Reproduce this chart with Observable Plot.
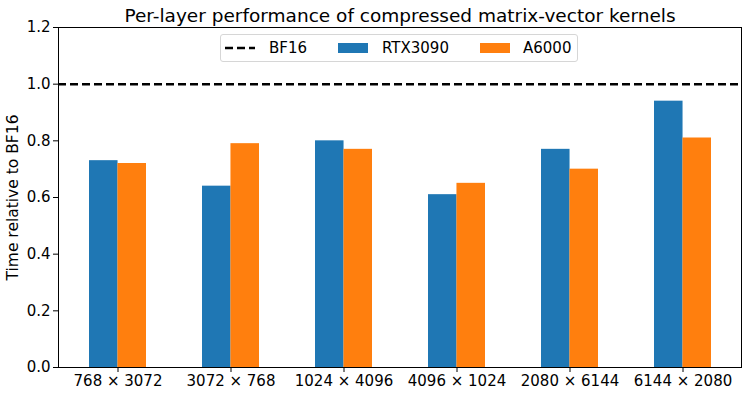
<!DOCTYPE html>
<html>
<head>
<meta charset="utf-8">
<script src="https://cdn.jsdelivr.net/npm/d3@7"></script>
<script src="https://cdn.jsdelivr.net/npm/@observablehq/plot@0.6"></script>
<style>
  html, body { margin: 0; padding: 0; background: white; }
  #wrap { position: relative; width: 748px; height: 396px; font-family: "DejaVu Sans", sans-serif; }
  #legend { position: absolute; left: 220px; top: 34px; width: 356px; height: 26px;
    border: 1px solid #d6d6d6; border-radius: 3px; background: rgba(255,255,255,0.85);
    font-size: 15px; color: black; }
  .li { position: absolute; top: 0; height: 26px; line-height: 26px; white-space: nowrap; }
  .sw { position: absolute; top: 8px; width: 30px; height: 10px; }
</style>
</head>
<body>
<div id="wrap"></div>
<script>
// ---- data ----
const categories = ["768 × 3072", "3072 × 768", "1024 × 4096", "4096 × 1024", "2080 × 6144", "6144 × 2080"];
const rtx3090 = [0.73, 0.64, 0.80, 0.61, 0.77, 0.94];
const a6000 = [0.72, 0.79, 0.77, 0.65, 0.70, 0.81];
const yTicks = [0, 0.2, 0.4, 0.6, 0.8, 1.0, 1.2];
const bf16 = 1.0;
const seriesNames = ["BF16", "RTX3090", "A6000"];
const colors = {RTX3090: "#1f77b4", A6000: "#ff7f0e"};
const title = "Per-layer performance of compressed matrix-vector kernels";
const yLabel = "Time relative to BF16";

// ---- layout ----
const W = 748, H = 396, mL = 58, mR = 7, mT = 27, mB = 29;
const step = (W - mL - mR) / categories.length;
const half = step * 0.25;

const rtxData = categories.map((c, i) => ({cat: c, value: rtx3090[i]}));
const a6Data = categories.map((c, i) => ({cat: c, value: a6000[i]}));

const chart = Plot.plot({
  width: W, height: H,
  marginTop: mT, marginBottom: mB, marginLeft: mL, marginRight: mR,
  style: {fontFamily: "DejaVu Sans", fontSize: "15px", color: "black", background: "white"},
  x: {domain: categories, paddingInner: 0.5, paddingOuter: 0.25, label: null, tickSize: 5, tickPadding: 3},
  y: {domain: [0, 1.2], ticks: yTicks, tickFormat: d3.format(".1f"), label: null, tickSize: 5, tickPadding: 3},
  marks: [
    Plot.barY(rtxData, {x: "cat", y: "value", fill: colors.RTX3090, insetRight: half, insetLeft: 0}),
    Plot.barY(a6Data, {x: "cat", y: "value", fill: colors.A6000, insetLeft: half, insetRight: 0}),
    Plot.ruleY([bf16], {stroke: "black", strokeWidth: 2.5, strokeDasharray: "8,4"}),
    Plot.frame({stroke: "black", strokeWidth: 1}),
    Plot.text([title], {frameAnchor: "top", lineAnchor: "bottom", dy: -6, fontSize: 18.5, fill: "black"}),
    Plot.text([yLabel], {frameAnchor: "left", rotate: -90, dx: -45, textAnchor: "middle", lineAnchor: "middle", fontSize: 15.5, fill: "black"})
  ]
});
const wrap = document.getElementById("wrap");
wrap.appendChild(chart);

// ---- legend ----
const legend = document.createElement("div");
legend.id = "legend";
legend.innerHTML = `
  <svg class="sw" style="left:4px" width="32" height="10"><line x1="0" y1="5" x2="32" y2="5" stroke="black" stroke-width="2.5" stroke-dasharray="8,4"/></svg>
  <div class="li" style="left:48px">${seriesNames[0]}</div>
  <div class="sw" style="left:117px;background:${colors.RTX3090}"></div>
  <div class="li" style="left:161px">${seriesNames[1]}</div>
  <div class="sw" style="left:259px;background:${colors.A6000}"></div>
  <div class="li" style="left:302px">${seriesNames[2]}</div>`;
wrap.appendChild(legend);
</script>
</body>
</html>
